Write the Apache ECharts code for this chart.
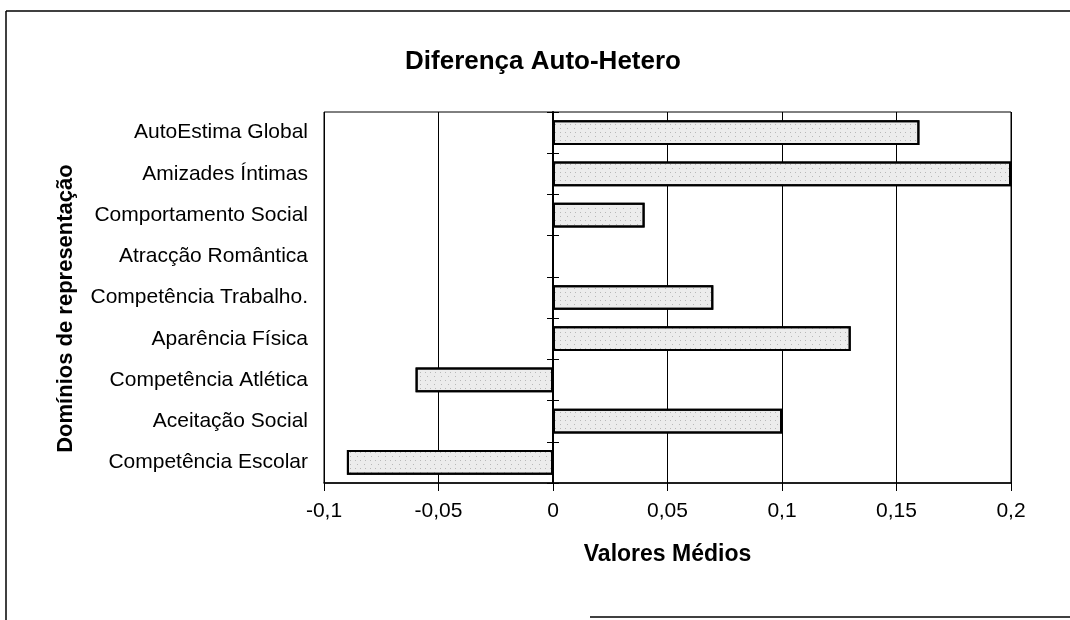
<!DOCTYPE html>
<html>
<head>
<meta charset="utf-8">
<script src="https://cdn.jsdelivr.net/npm/echarts@6/dist/echarts.min.js"></script>
<style>
  html, body { margin: 0; padding: 0; background: #fff; }
  #chart { width: 1070px; height: 620px; }
</style>
</head>
<body>
<div id="chart"></div>
<script>
// Domains, listed top to bottom
const categories = [
  'AutoEstima Global',
  'Amizades Íntimas',
  'Comportamento Social',
  'Atracção Romântica',
  'Competência Trabalho.',
  'Aparência Física',
  'Competência Atlética',
  'Aceitação Social',
  'Competência Escolar'
];
// Mean difference (self minus others) per domain
const diffValues = [0.16, 0.20, 0.04, 0, 0.07, 0.13, -0.06, 0.10, -0.09];
// Value axis ticks
const xMin = -0.1;
const xMax = 0.2;
const xStep = 0.05;

const FONT = '"Liberation Sans", Arial, sans-serif';
const chart = echarts.init(document.getElementById('chart'), null, { renderer: 'canvas' });

const fmt = v => {
  const r = Math.round(v * 1000) / 1000;
  return String(r).replace('.', ',');
};

const catAxisBase = {
  type: 'category',
  data: categories,
  inverse: true,
  position: 'left'
};

chart.setOption({
  animation: false,
  backgroundColor: '#ffffff',
  title: {
    text: 'Diferença Auto-Hetero',
    left: 538,
    top: 44,
    textAlign: 'center',
    textStyle: { fontFamily: FONT, fontSize: 26, fontWeight: 'bold', color: '#000' }
  },
  grid: {
    left: 324, right: 59, top: 112, bottom: 137,
    show: true, borderColor: '#000', borderWidth: 1, backgroundColor: 'transparent'
  },
  xAxis: {
    type: 'value',
    min: xMin, max: xMax, interval: xStep,
    name: 'Valores Médios',
    nameLocation: 'middle',
    nameGap: 60,
    nameTextStyle: { fontFamily: FONT, fontSize: 23, fontWeight: 'bold', color: '#000' },
    axisLine: { show: true, onZero: false, lineStyle: { color: '#000', width: 1.5 } },
    axisTick: { show: true, inside: false, length: 8, lineStyle: { color: '#000' } },
    axisLabel: { formatter: fmt, margin: 18, fontFamily: FONT, fontSize: 21, color: '#000' },
    splitLine: { show: true, lineStyle: { color: '#000', width: 1 } }
  },
  yAxis: [
    Object.assign({}, catAxisBase, {
      name: 'Domínios de representação',
      nameLocation: 'middle',
      nameGap: 247,
      nameRotate: 90,
      nameTextStyle: {
        fontFamily: FONT, fontSize: 22, fontWeight: 'bold', color: '#000',
        padding: [0, 22, 0, 0]
      },
      axisLine: { show: false, onZero: false },
      axisTick: { show: false },
      axisLabel: { margin: 16, fontFamily: FONT, fontSize: 21, color: '#000' },
      splitLine: { show: false }
    }),
    // zero line with ticks reaching left of it
    Object.assign({}, catAxisBase, {
      axisLine: { show: true, onZero: true, onZeroAxisIndex: 0, lineStyle: { color: '#000', width: 2 } },
      axisTick: { show: true, inside: false, length: 6, lineStyle: { color: '#000' } },
      axisLabel: { show: false },
      splitLine: { show: false }
    }),
    // ticks reaching right of the zero line
    Object.assign({}, catAxisBase, {
      axisLine: { show: false, onZero: true, onZeroAxisIndex: 0 },
      axisTick: { show: true, inside: true, length: 6, lineStyle: { color: '#000' } },
      axisLabel: { show: false },
      splitLine: { show: false }
    })
  ],
  series: [{
    type: 'bar',
    yAxisIndex: 0,
    data: diffValues,
    barCategoryGap: '40%',
    itemStyle: {
      color: '#ececec',
      borderColor: '#000',
      borderWidth: 2,
      decal: {
        symbol: 'rect',
        symbolSize: 1,
        dashArrayX: [[1, 4], [1, 6]],
        dashArrayY: [1, 3],
        color: 'rgba(90,90,90,0.35)',
        rotation: 0
      }
    },
    emphasis: { disabled: true }
  }],
  graphic: [
    { type: 'line', shape: { x1: 6, y1: 11, x2: 1070, y2: 11 }, style: { stroke: '#000', lineWidth: 1.5 }, z: 100 },
    { type: 'line', shape: { x1: 6, y1: 11, x2: 6, y2: 620 }, style: { stroke: '#000', lineWidth: 1.5 }, z: 100 },
    { type: 'line', shape: { x1: 590, y1: 617, x2: 1070, y2: 617 }, style: { stroke: '#000', lineWidth: 1.5 }, z: 100 }
  ]
});
</script>
</body>
</html>
